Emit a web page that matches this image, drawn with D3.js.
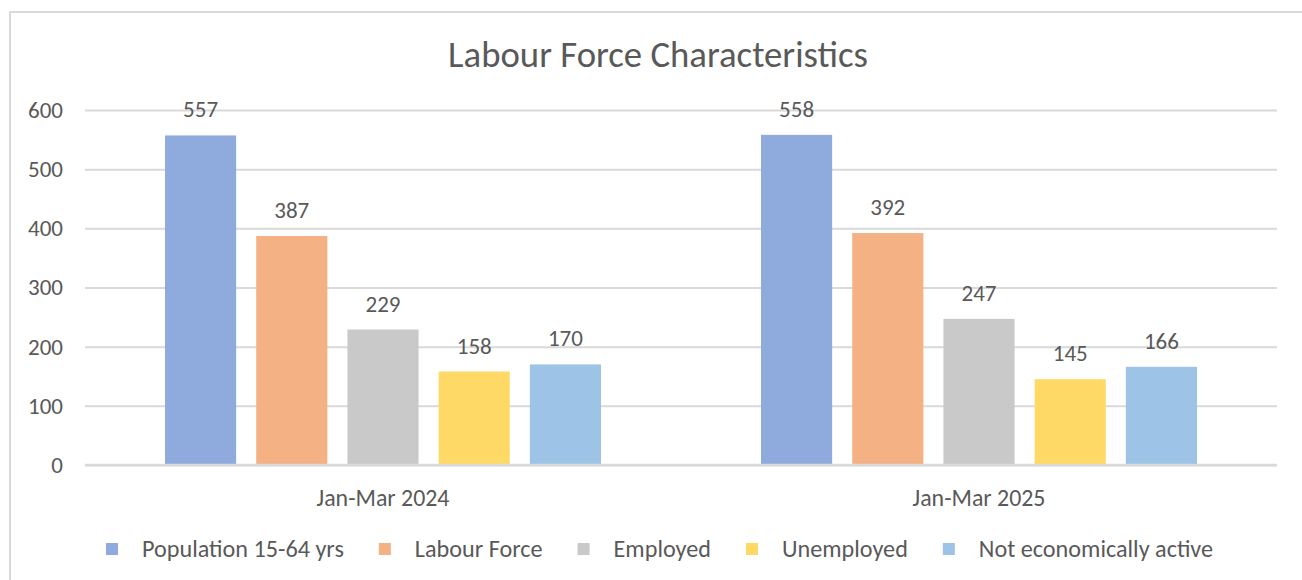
<!DOCTYPE html>
<html>
<head>
<meta charset="utf-8">
<script src="https://cdn.jsdelivr.net/npm/d3@7"></script>
<style>
  html, body { margin: 0; padding: 0; background: #ffffff; }
  svg { display: block; }
  text { font-family: Calibri, Carlito, Lato, "Open Sans", sans-serif; fill: #595959; }
</style>
</head>
<body>
<svg id="chart" width="1302" height="580"></svg>
<script>
const title = "Labour Force Characteristics";
const categories = ["Jan-Mar 2024", "Jan-Mar 2025"];
const seriesNames = ["Population 15-64 yrs", "Labour Force", "Employed", "Unemployed", "Not economically active"];
const seriesColors = ["#8FAADC", "#F4B183", "#C9C9C9", "#FFD966", "#9DC3E6"];
const values2024 = [557, 387, 229, 158, 170];
const values2025 = [558, 392, 247, 145, 166];
const yTicks = [0, 100, 200, 300, 400, 500, 600];

const seriesValues = [values2024, values2025];
const data = categories.map((c, i) => ({
  category: c,
  bars: seriesNames.map((s, j) => ({ series: s, value: seriesValues[i][j], color: seriesColors[j] }))
}));

const svg = d3.select("#chart");

// fit a text element's font size so its width matches a target width
function fitSize(sample, targetWidth) {
  const t = svg.append("text").attr("font-size", 100).text(sample);
  const w = t.node().getComputedTextLength();
  t.remove();
  return 100 * targetWidth / w;
}

// outer border
svg.append("rect")
  .attr("x", 10).attr("y", 12)
  .attr("width", 1320).attr("height", 620)
  .attr("fill", "none").attr("stroke", "#D9D9D9").attr("stroke-width", 2);

const plotLeft = 85, plotRight = 1277, plotTop = 110, plotBottom = 465;

const y = d3.scaleLinear().domain([0, 600]).range([plotBottom, plotTop]);
const x0 = d3.scaleBand().domain(categories).range([plotLeft, plotRight]).padding(0);
const groupGap = 80;
const x1 = d3.scaleBand().domain(seriesNames)
  .range([groupGap, x0.bandwidth() - groupGap])
  .paddingInner(0.22).paddingOuter(0);

// title
const titleSize = fitSize(title, 420);
svg.append("text")
  .attr("x", (448 + 868) / 2).attr("y", 67)
  .attr("text-anchor", "middle")
  .attr("font-size", titleSize)
  .text(title);

// gridlines + y axis labels
const tickSize = fitSize("600", 35);
const yAxis = d3.axisLeft(y).tickValues(yTicks).tickSize(-(plotRight - plotLeft)).tickPadding(22).tickFormat(d3.format("d"));
const gy = svg.append("g").attr("transform", `translate(${plotLeft},0)`).call(yAxis);
gy.select(".domain").remove();
gy.selectAll(".tick line").attr("stroke", "#D9D9D9").attr("stroke-width", 2);
gy.selectAll(".tick text")
  .attr("font-size", tickSize)
  .attr("fill", "#595959")
  .style("font-family", "Calibri, Carlito, Lato, 'Open Sans', sans-serif");

// bars
const groups = svg.append("g").selectAll("g")
  .data(data).join("g")
  .attr("transform", d => `translate(${x0(d.category)},0)`);

groups.selectAll("rect")
  .data(d => d.bars).join("rect")
  .attr("x", d => x1(d.series))
  .attr("y", d => y(d.value))
  .attr("width", x1.bandwidth())
  .attr("height", d => y(0) - y(d.value))
  .attr("fill", d => d.color);

// data labels
const labelSize = fitSize("557", 35);
groups.selectAll("text.val")
  .data(d => d.bars).join("text")
  .attr("class", "val")
  .attr("x", d => x1(d.series) + x1.bandwidth() / 2)
  .attr("y", d => y(d.value) - 18)
  .attr("text-anchor", "middle")
  .attr("font-size", labelSize)
  .text(d => d.value);

// baseline
svg.append("line")
  .attr("x1", plotLeft).attr("x2", plotRight)
  .attr("y1", y(0)).attr("y2", y(0))
  .attr("stroke", "#D9D9D9").attr("stroke-width", 2.5);

// category labels
const catSize = fitSize("Jan-Mar 2024", 133);
const xAxis = d3.axisBottom(x0).tickSize(0).tickPadding(24);
const gx = svg.append("g").attr("transform", `translate(0,${plotBottom})`).call(xAxis);
gx.select(".domain").remove();
gx.selectAll(".tick text")
  .attr("font-size", catSize)
  .attr("fill", "#595959")
  .style("font-family", "Calibri, Carlito, Lato, 'Open Sans', sans-serif");

// legend
const legSize = fitSize("Population 15-64 yrs", 202);
const legend = svg.append("g");
let lx = 106;
const legY = 549;
const sq = 12;
seriesNames.forEach((name, i) => {
  legend.append("rect")
    .attr("x", lx).attr("y", legY - sq / 2)
    .attr("width", sq).attr("height", sq)
    .attr("fill", seriesColors[i]);
  const t = legend.append("text")
    .attr("x", lx + 36).attr("y", legY)
    .attr("dy", "0.35em")
    .attr("font-size", legSize)
    .text(name);
  lx = lx + 36 + t.node().getComputedTextLength() + 35;
});
</script>
</body>
</html>
